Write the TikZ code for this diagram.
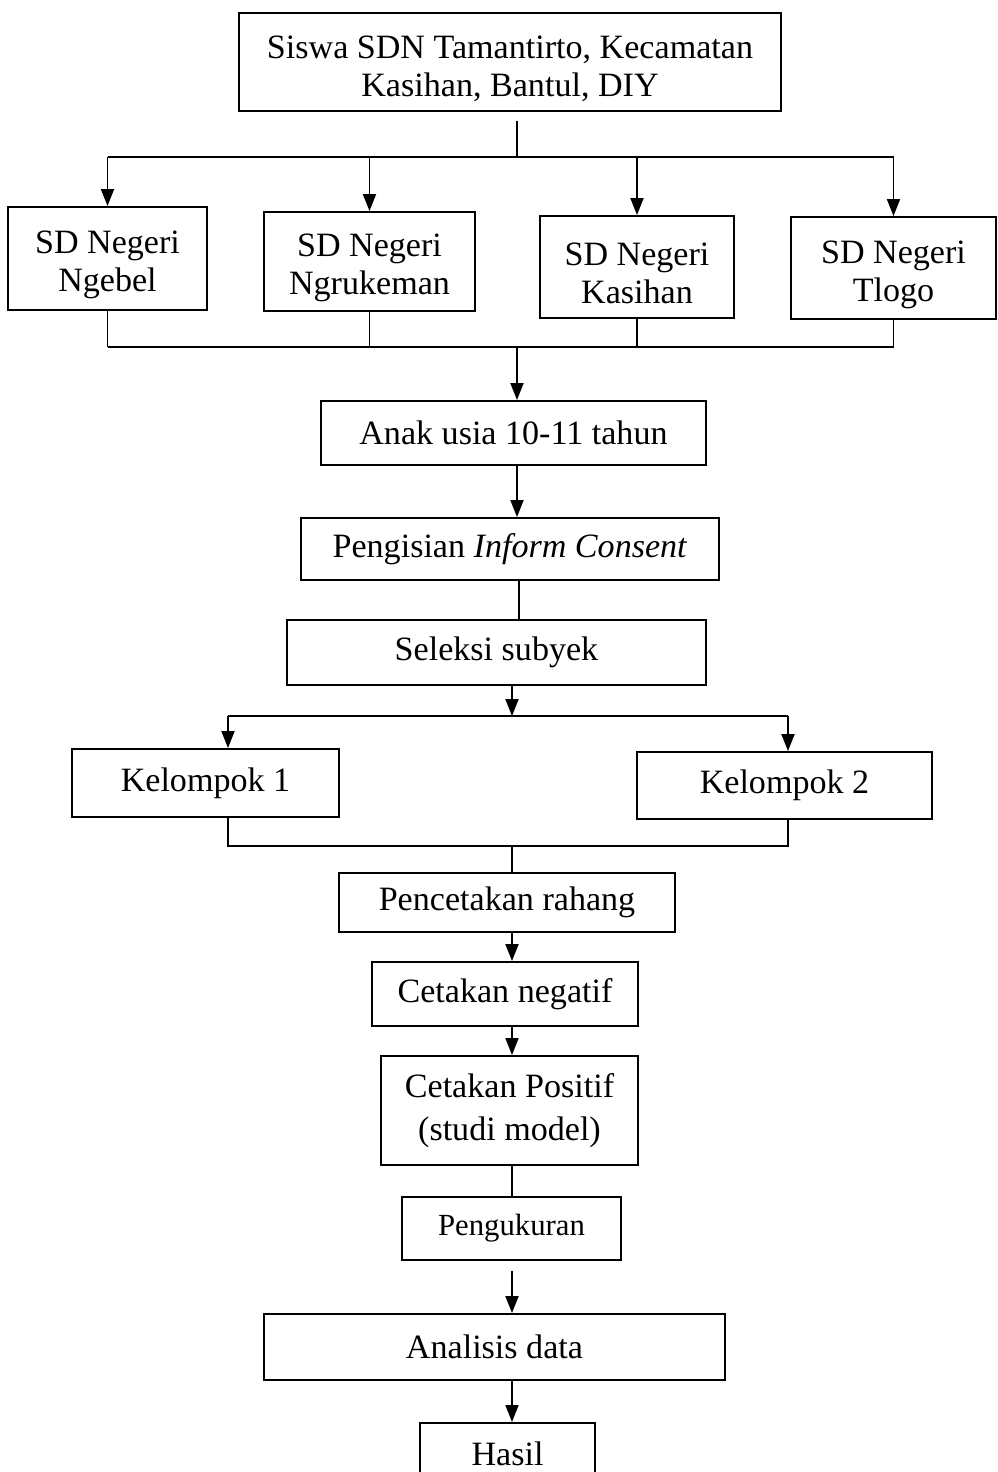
\documentclass[tikz,border=0pt]{standalone}
\usepackage{fontspec}
\setmainfont{Liberation Serif}
\usetikzlibrary{arrows.meta}
\newcommand{\boxstrut}{\rule{0pt}{1.04em}}

\begin{document}
\begin{tikzpicture}[x=0.02cm, y=-0.02cm, line width=1.1pt,
    box/.style={draw, inner sep=0pt, align=center,
      font=\fontsize{19.4}{21.6}\selectfont},
    arr/.style={-{Triangle[length=0.34cm,width=0.26cm]}}]
  \useasboundingbox (0,0) rectangle (998,1472);

  % boxes
  \node[box, minimum width=10.84cm, minimum height=1.96cm] (Siswa) at (510,62)
    {\boxstrut Siswa SDN Tamantirto, Kecamatan\\Kasihan, Bantul, DIY};
  \node[box, minimum width=3.98cm, minimum height=2.06cm] (Ngebel) at (107.5,258.5)
    {\boxstrut SD Negeri\\Ngebel};
  \node[box, minimum width=4.22cm, minimum height=1.98cm] (Ngrukeman) at (369.5,261.5)
    {\boxstrut SD Negeri\\Ngrukeman};
  \node[box, minimum width=3.88cm, minimum height=2.04cm] (Kasihan) at (637,267)
    {\boxstrut SD Negeri\\Kasihan};
  \node[box, minimum width=4.10cm, minimum height=2.04cm] (Tlogo) at (893.5,268)
    {\boxstrut SD Negeri\\Tlogo};
  \node[box, minimum width=7.70cm, minimum height=1.28cm] (Anak) at (513.5,433)
    {Anak usia 10-11 tahun};
  \node[box, minimum width=8.36cm, minimum height=1.24cm] (Inform) at (510,549)
    {Pengisian \textit{Inform Consent}};
  \node[box, minimum width=8.38cm, minimum height=1.30cm] (Seleksi) at (496.5,652.5)
    {Seleksi subyek};
  \node[box, minimum width=5.34cm, minimum height=1.36cm] (Kel1) at (205.5,783)
    {Kelompok 1};
  \node[box, minimum width=5.90cm, minimum height=1.34cm] (Kel2) at (784.5,785.5)
    {Kelompok 2};
  \node[box, minimum width=6.72cm, minimum height=1.18cm] (Cetak) at (507,902.5)
    {Pencetakan rahang};
  \node[box, minimum width=5.32cm, minimum height=1.28cm] (Negatif) at (505,994)
    {Cetakan negatif};
  \node[box, minimum width=5.14cm, minimum height=2.18cm] (Positif) at (509.5,1110.5)
    {Cetakan Positif\\[0.1cm](studi model)};
  \node[box, minimum width=4.38cm, minimum height=1.26cm,
    font=\fontsize{17.5}{20}\selectfont] (Ukur) at (511.5,1228.5)
    {Pengukuran};
  \node[box, minimum width=9.22cm, minimum height=1.32cm] (Analisis) at (494.5,1347)
    {Analisis data};
  \node[box, minimum width=3.50cm, minimum height=1.24cm] (Hasil) at (507.5,1454)
    {Hasil};

  % junctions
  \coordinate (split1) at (517,157);
  \coordinate (merge1) at (517,347);
  \coordinate (split2) at (512,716);
  \coordinate (g1) at (228,716);
  \coordinate (g2) at (788,716);
  \coordinate (merge2) at (512,846);

  % connectors
  \draw[shorten <=0.18cm] (Siswa.south -| split1) -- (split1);
  \draw (Ngebel.north |- split1) -- (Tlogo.north |- split1);
  \foreach \s in {Ngebel,Ngrukeman,Kasihan,Tlogo}
    \draw[arr] (\s.north |- split1) -- (\s.north);
  \foreach \s in {Ngebel,Ngrukeman,Kasihan,Tlogo}
    \draw (\s.south) -- (\s.south |- merge1);
  \draw (Ngebel.south |- merge1) -- (Tlogo.south |- merge1);
  \draw[arr] (merge1) -- (merge1 |- Anak.north);
  \draw[arr] (Anak.south -| merge1) -- (merge1 |- Inform.north);
  \draw ([xshift=0.04cm]Inform.south -| merge1) -- ([xshift=0.04cm]merge1 |- Seleksi.north);

  \draw[arr] (Seleksi.south -| split2) -- (split2);
  \draw (g1) -- (g2);
  \draw[arr] (g1) -- (g1 |- Kel1.north);
  \draw[arr] (g2) -- (g2 |- Kel2.north);
  \draw (g1 |- Kel1.south) -- (g1 |- merge2) -- (g2 |- merge2) -- (g2 |- Kel2.south);
  \draw (merge2) -- (merge2 |- Cetak.north);

  \draw[arr] (Cetak.south -| merge2) -- (merge2 |- Negatif.north);
  \draw[arr] (Negatif.south -| merge2) -- (merge2 |- Positif.north);
  \draw (Positif.south -| merge2) -- (merge2 |- Ukur.north);
  \draw[arr, shorten <=0.2cm] (Ukur.south -| merge2) -- (merge2 |- Analisis.north);
  \draw[arr] (Analisis.south -| merge2) -- (merge2 |- Hasil.north);
\end{tikzpicture}
\end{document}
